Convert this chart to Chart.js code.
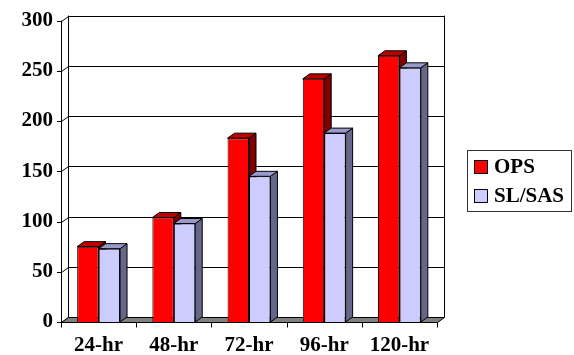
<!DOCTYPE html>
<html>
<head>
<meta charset="utf-8">
<script src="https://cdn.jsdelivr.net/npm/chart.js@4/dist/chart.umd.min.js"></script>
<style>
    html, body { margin: 0; padding: 0; background: #ffffff; }
    #wrap { width: 574px; height: 355px; }
</style>
</head>
<body>
<div id="wrap"><canvas id="forecastChart"></canvas></div>
<script>
// Forecast lead times and the two series
const leadTimes = ['24-hr', '48-hr', '72-hr', '96-hr', '120-hr'];
const opsValues = [75, 104, 183, 242, 265];
const slsasValues = [73, 98, 145, 188, 253];
const yTicks = [0, 50, 100, 150, 200, 250, 300];

const FONT = { family: "'Liberation Serif', 'Times New Roman', serif", size: 21, weight: 'bold' };
const DX = 7;   // depth offset to the right
const DY = -5;  // depth offset upwards

// face colours: front, top, side
const faces = [
    { front: '#ff0000', top: '#c00000', side: '#800000' },
    { front: '#ccccff', top: '#9999cc', side: '#666688' }
];

/**
 * Draws the walls, floor and the top/side faces of the columns
 */
const box3d = {
    id: 'box3d',
    beforeDatasetsDraw(chart) {
        const ctx = chart.ctx;
        const { left, right, top, bottom } = chart.chartArea;
        const y = chart.scales.y;
        ctx.save();
        ctx.lineWidth = 1;
        ctx.strokeStyle = '#000000';

        // back wall and side wall gridlines
        yTicks.forEach(v => {
            const py = Math.round(y.getPixelForValue(v)) + 0.5;
            ctx.beginPath();
            ctx.moveTo(left + 0.5, py);
            ctx.lineTo(left + DX + 0.5, py + DY);
            ctx.lineTo(right + DX + 0.5, py + DY);
            ctx.stroke();
            // y tick mark
            ctx.beginPath();
            ctx.moveTo(left - 4, py);
            ctx.lineTo(left + 0.5, py);
            ctx.stroke();
        });
        ctx.beginPath();
        ctx.moveTo(left + DX + 0.5, top + DY);
        ctx.lineTo(left + DX + 0.5, bottom + DY);
        ctx.moveTo(right + DX + 0.5, top + DY);
        ctx.lineTo(right + DX + 0.5, bottom + DY);
        ctx.moveTo(left + 0.5, top);
        ctx.lineTo(left + 0.5, bottom);
        ctx.stroke();

        // floor
        const fy = Math.round(y.getPixelForValue(0)) + 0.5;
        ctx.beginPath();
        ctx.moveTo(left + 0.5, fy);
        ctx.lineTo(right + 0.5, fy);
        ctx.lineTo(right + DX + 0.5, fy + DY);
        ctx.lineTo(left + DX + 0.5, fy + DY);
        ctx.closePath();
        ctx.fillStyle = '#808080';
        ctx.fill();
        ctx.stroke();

        // category tick marks
        const step = (right - left) / leadTimes.length;
        for (let i = 0; i <= leadTimes.length; i++) {
            const px = Math.round(left + step * i) + 0.5;
            ctx.beginPath();
            ctx.moveTo(px, fy);
            ctx.lineTo(px, fy + 5);
            ctx.stroke();
        }

        // top and side faces of every column
        chart.data.datasets.forEach((ds, di) => {
            const meta = chart.getDatasetMeta(di);
            meta.data.forEach(bar => {
                const p = bar.getProps(['x', 'y', 'base', 'width']);
                const l = p.x - p.width / 2;
                const r = p.x + p.width / 2;
                ctx.fillStyle = faces[di].side;
                ctx.beginPath();
                ctx.moveTo(r, p.y);
                ctx.lineTo(r + DX, p.y + DY);
                ctx.lineTo(r + DX, p.base + DY);
                ctx.lineTo(r, p.base);
                ctx.closePath();
                ctx.fill();
                ctx.stroke();
                ctx.fillStyle = faces[di].top;
                ctx.beginPath();
                ctx.moveTo(l, p.y);
                ctx.lineTo(l + DX, p.y + DY);
                ctx.lineTo(r + DX, p.y + DY);
                ctx.lineTo(r, p.y);
                ctx.closePath();
                ctx.fill();
                ctx.stroke();
            });
        });
        ctx.restore();
    },
    afterDraw(chart) {
        // legend box on the right
        const ctx = chart.ctx;
        ctx.save();
        ctx.lineWidth = 1;
        ctx.strokeStyle = '#333333';
        ctx.strokeRect(467.5, 150.5, 104, 61);
        ctx.font = `${FONT.weight} ${FONT.size}px ${FONT.family}`;
        ctx.textBaseline = 'middle';
        chart.data.datasets.forEach((ds, i) => {
            const cy = 167 + i * 29;
            ctx.fillStyle = ds.backgroundColor;
            ctx.fillRect(474.5, cy - 6.5, 13, 13);
            ctx.strokeStyle = '#000000';
            ctx.strokeRect(474.5, cy - 6.5, 13, 13);
            ctx.fillStyle = '#000000';
            ctx.fillText(ds.label, 494, cy + 1);
        });
        ctx.restore();
    }
};

new Chart(document.getElementById('forecastChart'), {
    type: 'bar',
    data: {
        labels: leadTimes,
        datasets: [{
            label: 'OPS',
            data: opsValues,
            backgroundColor: faces[0].front,
            borderColor: '#000000',
            borderWidth: 1,
            categoryPercentage: 0.57,
            barPercentage: 1.0
        }, {
            label: 'SL/SAS',
            data: slsasValues,
            backgroundColor: faces[1].front,
            borderColor: '#000000',
            borderWidth: 1,
            categoryPercentage: 0.57,
            barPercentage: 1.0
        }]
    },
    options: {
        responsive: true,
        maintainAspectRatio: false,
        animation: false,
        layout: {
            padding: { top: 17, right: 137, left: 0, bottom: 0 }
        },
        plugins: {
            legend: { display: false },
            tooltip: { enabled: false }
        },
        scales: {
            y: {
                min: 0,
                max: 300,
                afterFit(scale) { scale.width = 61; },
                afterBuildTicks(scale) { scale.ticks = yTicks.map(v => ({ value: v })); },
                grid: { display: false, drawTicks: false },
                border: { display: false },
                ticks: {
                    color: '#000000',
                    font: FONT,
                    padding: 8
                }
            },
            x: {
                afterFit(scale) { scale.height = 33; },
                grid: { display: false, drawTicks: false },
                border: { display: false },
                ticks: {
                    color: '#000000',
                    font: FONT,
                    padding: 11,
                    maxRotation: 0
                }
            }
        }
    },
    plugins: [box3d]
});
</script>
</body>
</html>
